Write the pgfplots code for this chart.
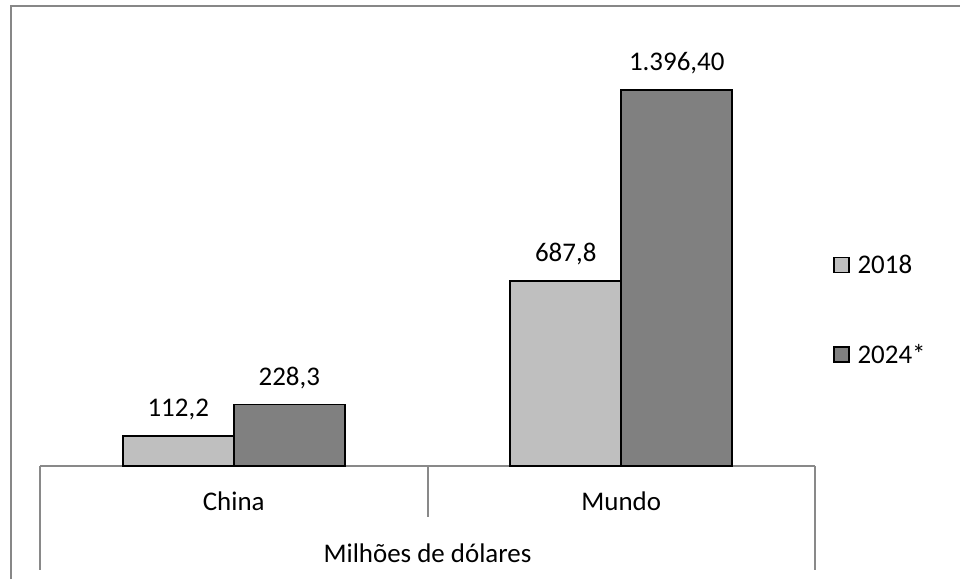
\documentclass[border=0pt]{standalone}
\usepackage{fontspec}
\setmainfont{Carlito}
\usepackage{pgfplots}
\usepackage{pgfplotstable}
\pgfplotsset{compat=1.18}

\definecolor{frame}{RGB}{135,135,135}
\definecolor{catline}{RGB}{137,137,137}
\definecolor{bar18}{RGB}{191,191,191}
\definecolor{bar24}{RGB}{128,128,128}

% values in millions of dollars
\pgfplotstableread{
x y label
0 112.2 112,2
1 687.8 687,8
}\dataA
\pgfplotstableread{
x y label
0 228.3 228,3
1 1396.40 1.396,40
}\dataB

\newcommand{\chartfont}{\fontsize{20.2}{24}\selectfont}

\begin{document}
\begin{tikzpicture}[x=0.75pt,y=0.75pt]
\useasboundingbox (0,0) rectangle (960,579);
% outer chart frame
\draw[frame,line width=1.5pt] (11,0) -- (11,573) -- (960,573);

\begin{axis}[
  at={(30pt,84.75pt)}, anchor=south west,
  scale only axis,
  width=581.25pt, height=323.25pt,
  xmin=-0.5, xmax=1.5,
  ymin=0, ymax=1600,
  axis y line=none,
  axis x line*=bottom,
  x axis line style={catline,line width=1pt,-},
  xtick={0,1}, xticklabels={China,Mundo},
  major tick length=0pt,
  xticklabel style={font=\chartfont, anchor=base, yshift=-33.4pt},
  xlabel={Milhões de dólares},
  xlabel style={font=\chartfont, at={(axis description cs:0.5,0)}, anchor=base, yshift=-72pt},
  ytick=\empty,
  ybar,
  bar width=0.2865,
  nodes near coords,
  point meta=explicit symbolic,
  every node near coord/.append style={font=\chartfont, anchor=base, yshift=14.25pt, inner sep=0pt, black},
  legend image code/.code={\draw[#1,line width=1pt] (0pt,-5.6pt) rectangle (11.25pt,5.6pt);},
  legend style={draw=none, fill=none, at={(1.0232,0.362)}, anchor=west,
    inner sep=0pt, row sep=51.5pt, font=\chartfont,
    nodes={inner sep=0pt},
    /tikz/every odd column/.append style={column sep=6pt}},
  legend cell align=left,
  clip=false,
]
\addplot[fill=bar18, draw=black, line width=1.4pt, bar shift=-0.14325]
  table[x=x,y=y,meta=label] {\dataA};
\addlegendentry{2018}
\addplot[fill=bar24, draw=black, line width=1.4pt, bar shift=0.14325]
  table[x=x,y=y,meta=label] {\dataB};
\addlegendentry{2024*}
\end{axis}

% category separators below the baseline
\draw[catline,line width=1pt] (40,113) -- (40,9);
\draw[catline,line width=1pt] (428,113) -- (428,62);
\draw[catline,line width=1pt] (815,113) -- (815,9);
\end{tikzpicture}
\end{document}
